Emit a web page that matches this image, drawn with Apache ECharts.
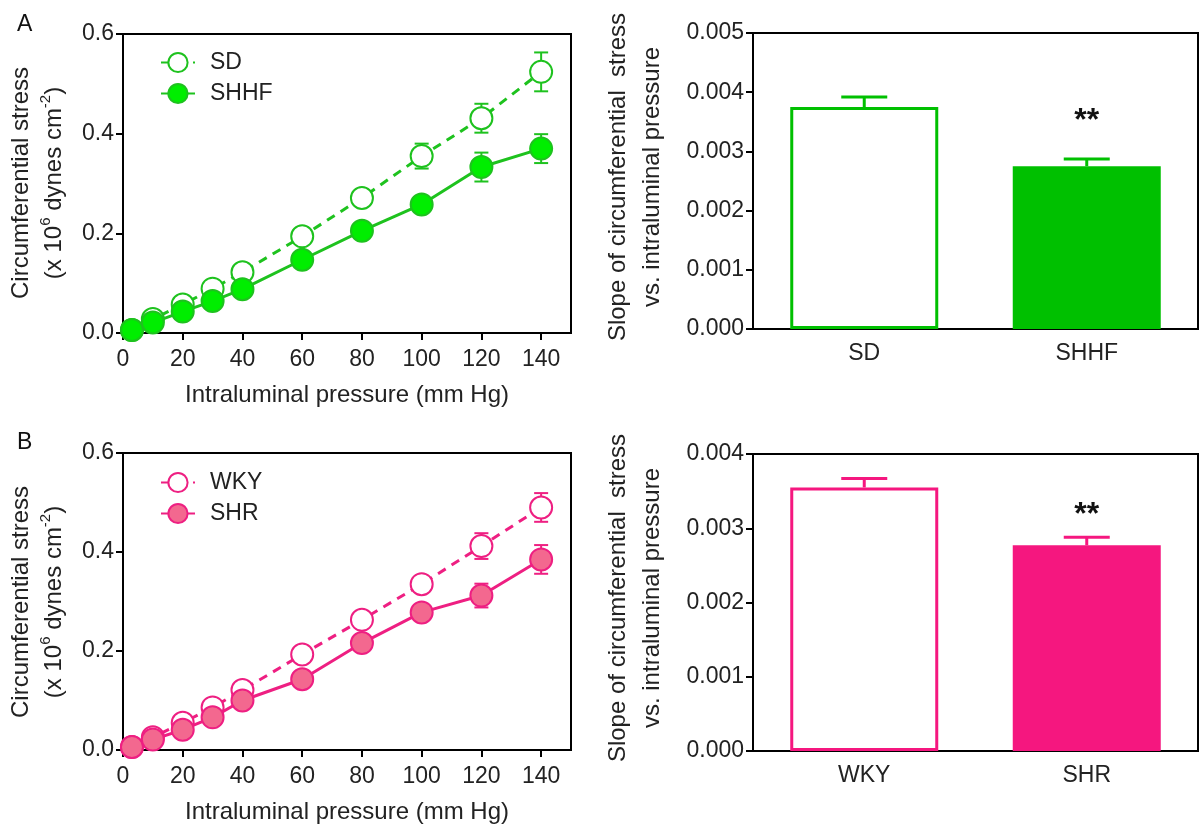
<!DOCTYPE html>
<html>
<head>
<meta charset="utf-8">
<script src="https://cdn.jsdelivr.net/npm/echarts@6/dist/echarts.min.js"></script>
<style>html,body{margin:0;padding:0;background:#fff;}#c{width:1204px;height:825px;}</style>
</head>
<body>
<div id="c"></div>
<script>
// ---------- data ----------
const pressure = [3, 10, 20, 30, 40, 60, 80, 100, 120, 140];
const xTicks = [0, 20, 40, 60, 80, 100, 120, 140];
const sdMean   = [0.006, 0.028, 0.057, 0.089, 0.122, 0.194, 0.271, 0.355, 0.431, 0.524];
const sdSem    = [0.002, 0.004, 0.006, 0.008, 0.008, 0.008, 0.010, 0.025, 0.029, 0.039];
const shhfMean = [0.006, 0.021, 0.043, 0.064, 0.088, 0.147, 0.205, 0.258, 0.333, 0.370];
const shhfSem  = [0.002, 0.003, 0.004, 0.005, 0.006, 0.008, 0.010, 0.012, 0.029, 0.029];
const wkyMean  = [0.006, 0.026, 0.055, 0.086, 0.121, 0.193, 0.263, 0.335, 0.412, 0.490];
const wkySem   = [0.002, 0.003, 0.005, 0.006, 0.008, 0.010, 0.012, 0.015, 0.026, 0.029];
const shrMean  = [0.006, 0.021, 0.041, 0.066, 0.100, 0.143, 0.216, 0.278, 0.312, 0.385];
const shrSem   = [0.002, 0.003, 0.004, 0.005, 0.006, 0.008, 0.010, 0.012, 0.024, 0.029];

const barCatsA = ['SD', 'SHHF'];
const slopeA   = [0.00375, 0.00275];
const slopeSemA= [0.00017, 0.00012];
const sigA     = ['', '**'];
const barCatsB = ['WKY', 'SHR'];
const slopeB   = [0.00355, 0.00277];
const slopeSemB= [0.00012, 0.00011];
const sigB     = ['', '**'];

// ---------- style ----------
const FONT = "'Liberation Sans', Arial, sans-serif";
const TXT = '#222';
const FS = 23;
const G_LINE = '#1ec21e', G_FILL = '#00ee00', G_BAR = '#00c000';
const P_LINE = '#ee1f82', P_FILL = '#f3688f', P_BAR = '#f5177f';

const chart = echarts.init(document.getElementById('c'), null, {renderer: 'canvas'});

function lineXAxis(gi) {
  return {
    gridIndex: gi, type: 'value', min: 0, max: 150,
    name: 'Intraluminal pressure (mm Hg)', nameLocation: 'middle', nameGap: 50,
    nameTextStyle: {fontFamily: FONT, fontSize: 24, color: TXT},
    axisLine: {lineStyle: {color: '#000', width: 2}},
    axisTick: {show: true, length: 7, lineStyle: {color: '#000', width: 2}, customValues: xTicks},
    axisLabel: {fontFamily: FONT, fontSize: FS, color: TXT, margin: 15, customValues: xTicks},
    splitLine: {show: false}
  };
}
function lineYAxis(gi) {
  return {
    gridIndex: gi, type: 'value', min: 0, max: 0.6, interval: 0.2,
    axisLine: {show: true, lineStyle: {color: '#000', width: 2}},
    axisTick: {show: true, length: 7, lineStyle: {color: '#000', width: 2}},
    axisLabel: {fontFamily: FONT, fontSize: FS, color: TXT, margin: 9, formatter: v => v.toFixed(1)},
    splitLine: {show: false}
  };
}
function barXAxis(gi, cats) {
  return {
    gridIndex: gi, type: 'category', data: cats,
    axisLine: {lineStyle: {color: '#000', width: 2}},
    axisTick: {show: false},
    axisLabel: {fontFamily: FONT, fontSize: FS, color: TXT, margin: 13}
  };
}
function barYAxis(gi, max) {
  return {
    gridIndex: gi, type: 'value', min: 0, max: max, interval: 0.001,
    axisLine: {show: true, lineStyle: {color: '#000', width: 2}},
    axisTick: {show: true, length: 7, lineStyle: {color: '#000', width: 2}},
    axisLabel: {fontFamily: FONT, fontSize: FS, color: TXT, margin: 9, formatter: v => v.toFixed(3)},
    splitLine: {show: false}
  };
}

function pairs(xs, ys) { return xs.map((x, i) => [x, ys[i]]); }
function triples(xs, ys, es) { return xs.map((x, i) => [x, ys[i], es[i]]); }

function errSeries(gi, data, color, z) {
  return {
    type: 'custom', xAxisIndex: gi, yAxisIndex: gi, z: z, silent: true,
    data: data,
    renderItem: function (params, api) {
      const x = api.value(0), m = api.value(1), s = api.value(2);
      const t = api.coord([x, m + s]);
      const b = api.coord([x, m - s]);
      const hw = 7;
      const st = {stroke: color, lineWidth: 2};
      return {type: 'group', children: [
        {type: 'line', shape: {x1: t[0], y1: t[1], x2: b[0], y2: b[1]}, style: st},
        {type: 'line', shape: {x1: t[0] - hw, y1: t[1], x2: t[0] + hw, y2: t[1]}, style: st},
        {type: 'line', shape: {x1: b[0] - hw, y1: b[1], x2: b[0] + hw, y2: b[1]}, style: st}
      ]};
    }
  };
}

function lineSeries(gi, name, data, color, fill, dashed, z) {
  return {
    type: 'line', name: name, xAxisIndex: gi, yAxisIndex: gi, data: data, z: z,
    symbol: 'circle', symbolSize: 22,
    lineStyle: {color: color, width: 3, type: dashed ? [9, 7] : 'solid'},
    itemStyle: {color: fill, borderColor: color, borderWidth: 2},
    emphasis: {disabled: true}
  };
}

function barSeries(gi, vals, color) {
  return {
    type: 'bar', xAxisIndex: gi, yAxisIndex: gi, barWidth: 148, z: 2,
    data: vals.map((v, i) => ({
      value: v,
      itemStyle: i === 0 ? {color: '#fff', borderColor: color, borderWidth: 3} : {color: color, borderColor: color, borderWidth: 0}
    })),
    emphasis: {disabled: true}
  };
}

function barErrSeries(gi, vals, sems, sigs, color, sigOffset) {
  return {
    type: 'custom', xAxisIndex: gi, yAxisIndex: gi, z: 3, silent: true,
    data: vals.map((v, i) => [i, v, sems[i]]),
    renderItem: function (params, api) {
      const i = api.value(0), m = api.value(1), s = api.value(2);
      const base = api.coord([i, m]);
      const t = api.coord([i, m + s]);
      const hw = 23;
      const st = {stroke: color, lineWidth: 3};
      const ch = [
        {type: 'line', shape: {x1: t[0], y1: base[1], x2: t[0], y2: t[1]}, style: st},
        {type: 'line', shape: {x1: t[0] - hw, y1: t[1], x2: t[0] + hw, y2: t[1]}, style: st}
      ];
      const sig = sigs[params.dataIndex];
      if (sig) {
        ch.push({type: 'text', x: t[0], y: t[1] - sigOffset,
          style: {text: sig, fontFamily: FONT, fontSize: 32, fontWeight: 'bold', fill: '#111', align: 'center', verticalAlign: 'middle'}});
      }
      return {type: 'group', children: ch};
    }
  };
}

const richY = {
  a: {fontFamily: FONT, fontSize: 24, fill: TXT, lineHeight: 33, verticalAlign: 'middle'},
  s: {fontFamily: FONT, fontSize: 15, fill: TXT, lineHeight: 18, verticalAlign: 'top'}
};
function yTitleLine(x, y) {
  return {
    type: 'text', x: x, y: y, rotation: Math.PI / 2,
    style: {
      text: '{a|Circumferential stress}\n{a|(x 10}{s|6}{a| dynes cm}{s|-2}{a|)}',
      rich: richY, align: 'center', verticalAlign: 'middle'
    }
  };
}
function yTitleBar(x, y) {
  return {
    type: 'text', x: x, y: y, rotation: Math.PI / 2,
    style: {
      text: 'Slope of circumferential  stress\nvs. intraluminal pressure',
      fontFamily: FONT, fontSize: 24, fill: TXT, lineHeight: 34, align: 'center', verticalAlign: 'middle'
    }
  };
}

const gridBase = {show: true, borderColor: '#000', borderWidth: 2, backgroundColor: 'transparent', containLabel: false};
const legendText = {fontFamily: FONT, fontSize: FS, color: TXT, padding: [0, 0, 0, 10]};

const option = {
  animation: false,
  backgroundColor: '#fff',
  grid: [
    Object.assign({left: 123, top: 34, width: 448, height: 299}, gridBase),
    Object.assign({left: 753, top: 33, width: 445, height: 296}, gridBase),
    Object.assign({left: 123, top: 453, width: 448, height: 299}, gridBase),
    Object.assign({left: 753, top: 454, width: 445, height: 297}, gridBase)
  ],
  xAxis: [lineXAxis(0), barXAxis(1, barCatsA), lineXAxis(2), barXAxis(3, barCatsB)],
  yAxis: [lineYAxis(0), barYAxis(1, 0.005), lineYAxis(2), barYAxis(3, 0.004)],
  legend: [
    {data: ['SD', 'SHHF'], left: 155, top: 46, orient: 'vertical', itemWidth: 34, itemHeight: 24, itemGap: 8,
     textStyle: legendText, selectedMode: false},
    {data: ['WKY', 'SHR'], left: 155, top: 466, orient: 'vertical', itemWidth: 34, itemHeight: 24, itemGap: 8,
     textStyle: legendText, selectedMode: false}
  ],
  graphic: [
    {type: 'text', x: 17, y: 13, style: {text: 'A', fontFamily: FONT, fontSize: 23, fill: '#111'}},
    {type: 'text', x: 17, y: 431, style: {text: 'B', fontFamily: FONT, fontSize: 23, fill: '#111'}},
    yTitleLine(38, 183),
    yTitleLine(38, 602),
    yTitleBar(635, 177),
    yTitleBar(635, 598)
  ],
  series: [
    errSeries(0, triples(pressure, sdMean, sdSem), G_LINE, 3),
    lineSeries(0, 'SD', pairs(pressure, sdMean), G_LINE, '#fff', true, 4),
    errSeries(0, triples(pressure, shhfMean, shhfSem), G_LINE, 5),
    lineSeries(0, 'SHHF', pairs(pressure, shhfMean), G_LINE, G_FILL, false, 6),

    barSeries(1, slopeA, G_BAR),
    barErrSeries(1, slopeA, slopeSemA, sigA, G_BAR, 38),

    errSeries(2, triples(pressure, wkyMean, wkySem), P_LINE, 3),
    lineSeries(2, 'WKY', pairs(pressure, wkyMean), P_LINE, '#fff', true, 4),
    errSeries(2, triples(pressure, shrMean, shrSem), P_LINE, 5),
    lineSeries(2, 'SHR', pairs(pressure, shrMean), P_LINE, P_FILL, false, 6),

    barSeries(3, slopeB, P_BAR),
    barErrSeries(3, slopeB, slopeSemB, sigB, P_BAR, 22)
  ]
};
chart.setOption(option);
</script>
</body>
</html>
